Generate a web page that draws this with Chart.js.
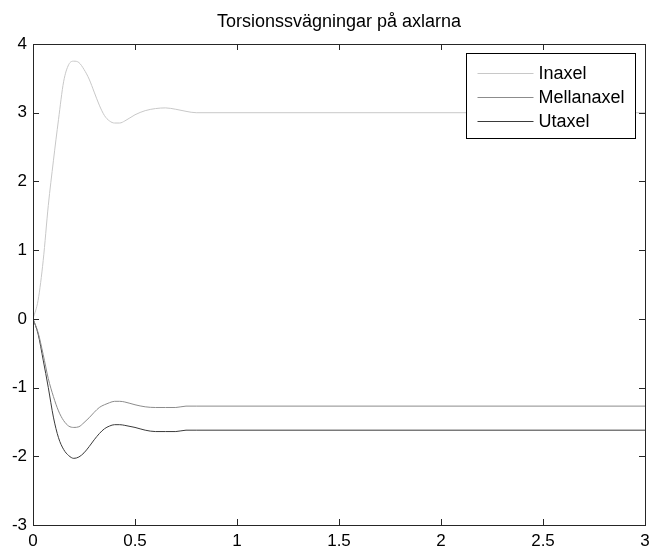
<!DOCTYPE html>
<html>
<head>
<meta charset="utf-8">
<script src="https://cdn.jsdelivr.net/npm/chart.js@4.4.0/dist/chart.umd.min.js"></script>
<style>
  html, body { margin: 0; padding: 0; background: #fff; }
  canvas { display: block; }
</style>
</head>
<body>
<canvas id="torsionChart" width="649" height="548"></canvas>
<script>
// time (s)
const tid = [0, 0.025, 0.05, 0.075, 0.1, 0.125, 0.15, 0.175, 0.2, 0.225, 0.25, 0.275, 0.3, 0.325,
  0.35, 0.375, 0.4, 0.425, 0.45, 0.5, 0.55, 0.6, 0.65, 0.7, 0.75, 0.8, 1, 1.5, 2, 2.5, 3];
const inaxel = [0, 0.27, 0.85, 1.65, 2.3, 2.9, 3.45, 3.7, 3.75, 3.73, 3.63, 3.49, 3.3, 3.11,
  2.96, 2.88, 2.85, 2.85, 2.88, 2.97, 3.03, 3.06, 3.07, 3.05, 3.02, 3.0, 3, 3, 3, 3, 3];
const mellanaxel = [0, -0.2, -0.52, -0.87, -1.13, -1.34, -1.48, -1.56, -1.58, -1.57, -1.51, -1.44, -1.36, -1.29,
  -1.25, -1.22, -1.2, -1.2, -1.21, -1.25, -1.28, -1.29, -1.29, -1.29, -1.27, -1.27, -1.27, -1.27, -1.27, -1.27, -1.27];
const utaxel = [0, -0.22, -0.6, -1.0, -1.43, -1.73, -1.9, -1.99, -2.03, -2.01, -1.95, -1.86, -1.76, -1.67,
  -1.6, -1.56, -1.54, -1.54, -1.55, -1.58, -1.62, -1.64, -1.64, -1.64, -1.62, -1.62, -1.62, -1.62, -1.62, -1.62, -1.62];
const xTicks = [0, 0.5, 1, 1.5, 2, 2.5, 3];
const yTicks = [-3, -2, -1, 0, 1, 2, 3, 4];
const title = 'Torsionssvägningar på axlarna';

const axisColor = '#262626';
const fontName = 'Liberation Sans';

function pts(ys) {
  return tid.map((t, i) => ({ x: t, y: ys[i] }));
}

// MATLAB style: title over the axes, box, inward ticks and legend
const matlabBox = {
  id: 'matlabBox',
  afterDatasetsDraw(chart) {
    const { ctx, chartArea: a, scales } = chart;
    const tl = 6;
    ctx.save();

    ctx.fillStyle = '#000';
    ctx.font = '18px ' + fontName;
    ctx.textAlign = 'center';
    ctx.textBaseline = 'alphabetic';
    ctx.fillText(title, (a.left + a.right) / 2, a.top - 17);

    ctx.strokeStyle = axisColor;
    ctx.lineWidth = 1;
    ctx.beginPath();
    xTicks.forEach(v => {
      const px = Math.round(scales.x.getPixelForValue(v)) + 0.5;
      ctx.moveTo(px, a.bottom); ctx.lineTo(px, a.bottom - tl);
      ctx.moveTo(px, a.top); ctx.lineTo(px, a.top + tl);
    });
    yTicks.forEach(v => {
      const py = Math.round(scales.y.getPixelForValue(v)) + 0.5;
      ctx.moveTo(a.left, py); ctx.lineTo(a.left + tl, py);
      ctx.moveTo(a.right, py); ctx.lineTo(a.right - tl, py);
    });
    ctx.stroke();
    ctx.strokeRect(Math.round(a.left) + 0.5, Math.round(a.top) + 0.5,
      Math.round(a.right - a.left), Math.round(a.bottom - a.top));

    // legend
    const bw = 169, bh = 85;
    const bx = Math.round(a.right) - 10 - bw + 0.5;
    const by = Math.round(a.top) + 9 + 0.5;
    ctx.fillStyle = '#fff';
    ctx.fillRect(bx, by, bw, bh);
    ctx.strokeStyle = '#000';
    ctx.strokeRect(bx, by, bw, bh);
    ctx.font = '18px ' + fontName;
    ctx.textAlign = 'left';
    ctx.textBaseline = 'middle';
    chart.data.datasets.forEach((ds, i) => {
      const ry = Math.round(by + 19 + i * 24) + 0.5;
      ctx.strokeStyle = ds.borderColor;
      ctx.beginPath();
      ctx.moveTo(bx + 11, ry); ctx.lineTo(bx + 67, ry);
      ctx.stroke();
      ctx.fillStyle = '#000';
      ctx.fillText(ds.label, bx + 72, ry + 1);
    });
    ctx.restore();
  }
};

const ctx = document.getElementById('torsionChart').getContext('2d');
const torsionChart = new Chart(ctx, {
  type: 'line',
  data: {
    datasets: [
      { label: 'Inaxel', data: pts(inaxel), borderColor: '#c8c8c8' },
      { label: 'Mellanaxel', data: pts(mellanaxel), borderColor: '#8c8c8c' },
      { label: 'Utaxel', data: pts(utaxel), borderColor: '#3a3a3a' }
    ]
  },
  options: {
    responsive: false,
    animation: false,
    elements: {
      line: { borderWidth: 1, fill: false, cubicInterpolationMode: 'monotone' },
      point: { radius: 0 }
    },
    layout: { padding: { left: 0, right: 4, top: 44, bottom: 0 } },
    plugins: {
      legend: { display: false },
      tooltip: { enabled: false },
      title: { display: false }
    },
    scales: {
      x: {
        type: 'linear',
        min: 0,
        max: 3,
        afterBuildTicks: s => { s.ticks = xTicks.map(v => ({ value: v })); },
        afterFit: s => { s.height = 23; s.paddingLeft = 0; s.paddingRight = 0; },
        ticks: {
          color: '#000',
          padding: 6,
          maxRotation: 0,
          autoSkip: false,
          font: { family: fontName, size: 17 },
          callback: v => String(v)
        },
        grid: { display: false, drawTicks: false },
        border: { display: false }
      },
      y: {
        min: -3,
        max: 4,
        afterBuildTicks: s => { s.ticks = yTicks.map(v => ({ value: v })); },
        afterFit: s => { s.width = 33; s.paddingTop = 0; s.paddingBottom = 0; },
        ticks: {
          color: '#000',
          padding: 6,
          autoSkip: false,
          font: { family: fontName, size: 17 },
          callback: v => String(v)
        },
        grid: { display: false, drawTicks: false },
        border: { display: false }
      }
    }
  },
  plugins: [matlabBox]
});
</script>
</body>
</html>
